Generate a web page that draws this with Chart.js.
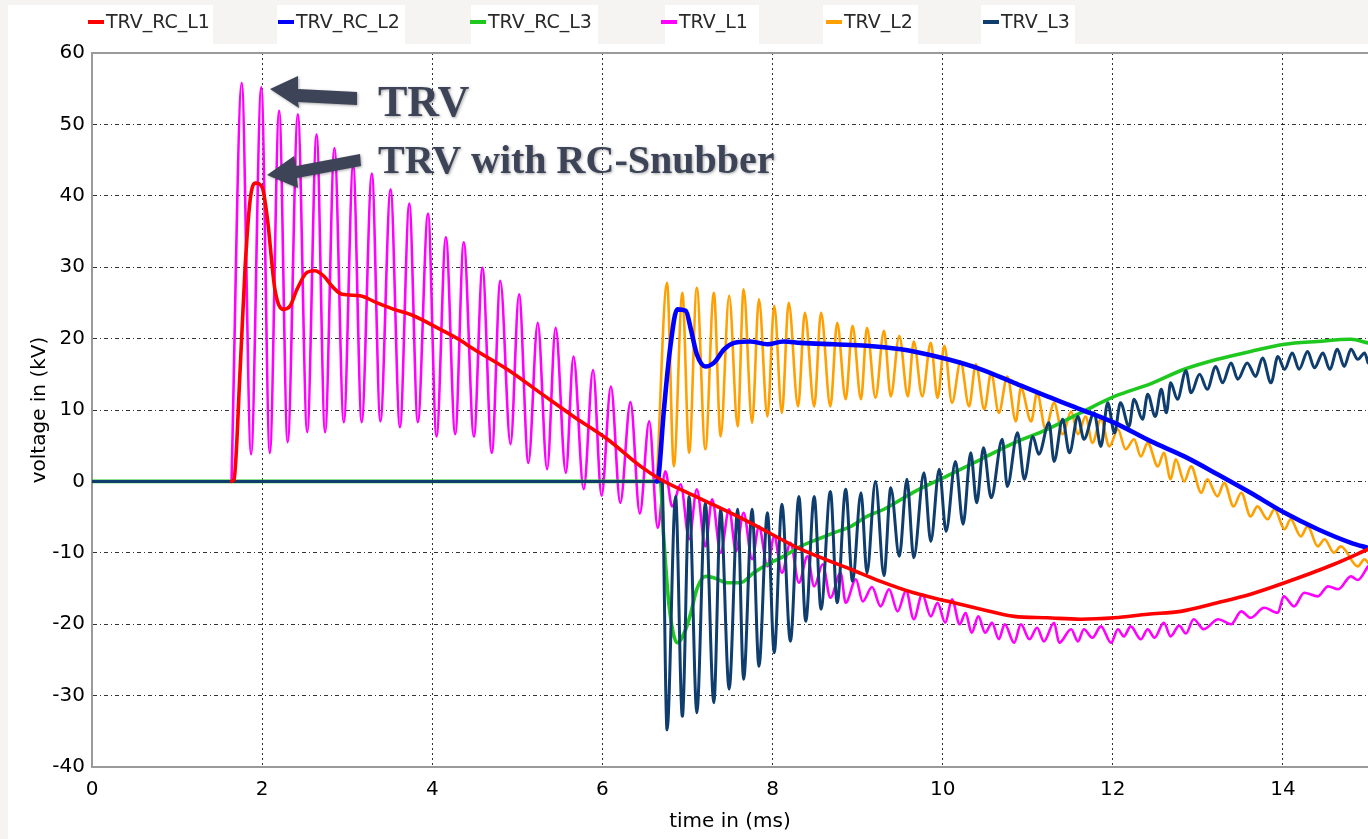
<!DOCTYPE html>
<html>
<head>
<meta charset="utf-8">
<title>TRV</title>
<script src="https://cdn.jsdelivr.net/npm/chart.js@4.4.1/dist/chart.umd.min.js"></script>
<style>
    html, body { margin: 0; padding: 0; background: #f5f4f2; }
    #trvChart { display: block; }
</style>
</head>
<body>
<canvas id="trvChart" width="1368" height="839"></canvas>
<script>
// time in ms / voltage in kV
const seriesNames = ["TRV_RC_L1", "TRV_RC_L2", "TRV_RC_L3", "TRV_L1", "TRV_L2", "TRV_L3"];
const xTickMs = [0, 2, 4, 6, 8, 10, 12, 14];
const yTickKv = [-40, -30, -20, -10, 0, 10, 20, 30, 40, 50, 60];

const rcL1Ms = [1.64, 1.67, 1.74, 1.80, 1.86, 1.92, 2.00, 2.06, 2.15, 2.25,
    2.33, 2.41, 2.53, 2.62, 2.72, 2.84, 2.94, 3.15, 3.35, 3.55,
    3.78, 4.06, 4.31, 4.49, 4.88, 5.27, 5.66, 6.06, 6.45, 6.68,
    7.15, 7.74, 8.33, 8.92, 9.27, 9.66, 10.06, 10.45, 10.84, 11.23,
    11.62, 12.02, 12.41, 12.80, 13.23, 13.62, 14.02, 14.60, 15.0];
const rcL1Kv = [0, 0.3, 15.3, 30, 39.5, 41.8, 41.2, 37, 26.9, 24.1,
    24.6, 26.9, 29.3, 29.5, 28.8, 27.1, 26.2, 26.0, 25.0, 24.1,
    23.2, 21.5, 19.9, 18.5, 15.7, 12.4, 9.1, 5.9, 2.1, 0.3,
    -2.4, -5.8, -9.5, -12.3, -14.0, -15.6, -16.8, -17.9, -18.9, -19.1,
    -19.3, -19.1, -18.6, -18.2, -17.0, -15.8, -14.2, -11.6, -9.5];

const rcL2Ms = [6.64, 6.66, 6.72, 6.80, 6.88, 6.98, 7.04, 7.11, 7.21, 7.31,
    7.43, 7.55, 7.74, 7.94, 8.13, 8.33, 8.72, 9.11, 9.51, 9.66,
    10.06, 10.45, 10.84, 11.23, 11.62, 12.02, 12.45, 12.84, 13.23, 13.62,
    14.02, 14.41, 14.80, 15.0];
const rcL2Kv = [0, 0.7, 9.6, 19.0, 24.1, 23.9, 21.3, 17.8, 16.1, 16.6,
    18.5, 19.4, 19.6, 19.2, 19.6, 19.4, 19.2, 19.0, 18.5, 18.2,
    17.1, 15.7, 13.8, 11.9, 10.1, 8.2, 5.6, 3.5, 1.0, -1.6,
    -4.4, -6.7, -8.6, -9.3];

const rcL3Ms = [0, 6.68, 6.72, 6.78, 6.88, 6.98, 7.04, 7.11, 7.21, 7.31,
    7.47, 7.62, 7.78, 7.94, 8.13, 8.33, 8.53, 8.72, 8.92, 9.11,
    9.31, 9.66, 10.06, 10.45, 10.84, 11.23, 11.62, 12.02, 12.45, 12.84,
    13.23, 13.62, 14.02, 14.41, 14.80, 15.0];
const rcL3Kv = [0, 0, -7.7, -17.0, -22.6, -20.7, -18.4, -15.1, -13.3, -13.5,
    -14.2, -14.2, -12.8, -11.6, -10.5, -9.1, -8.1, -7.2, -6.3, -4.9,
    -3.9, -1.5, 0.8, 3.1, 5.4, 7.3, 9.6, 11.9, 13.7, 15.7,
    17.1, 18.2, 19.2, 19.6, 19.9, 19.4];

// peaks and troughs of the un-damped traces
const l1Ms = [1.64, 1.76, 1.87, 1.99, 2.09, 2.20, 2.30, 2.42, 2.53, 2.64,
    2.74, 2.85, 2.96, 3.07, 3.17, 3.29, 3.39, 3.51, 3.62, 3.73,
    3.83, 3.95, 4.05, 4.16, 4.27, 4.37, 4.49, 4.59, 4.70, 4.80,
    4.92, 5.02, 5.13, 5.24, 5.35, 5.45, 5.57, 5.66, 5.78, 5.89,
    5.99, 6.10, 6.21, 6.33, 6.44, 6.55, 6.65, 6.74, 6.82, 6.92,
    7.02, 7.11, 7.21, 7.29, 7.39, 7.49, 7.57, 7.66, 7.76, 7.84,
    7.94, 8.02, 8.11, 8.21, 8.31, 8.41, 8.49, 8.59, 8.68, 8.80,
    8.86, 8.98, 9.06, 9.17, 9.27, 9.37, 9.47, 9.57, 9.66, 9.76,
    9.86, 9.94, 10.03, 10.11, 10.20, 10.27, 10.34, 10.42, 10.50, 10.58,
    10.66, 10.73, 10.84, 10.92, 11.02, 11.11, 11.19, 11.31, 11.37, 11.51,
    11.59, 11.66, 11.76, 11.86, 11.98, 12.06, 12.13, 12.21, 12.33, 12.41,
    12.49, 12.60, 12.68, 12.78, 12.86, 12.95, 13.07, 13.24, 13.39, 13.51,
    13.62, 13.78, 13.94, 14.01, 14.13, 14.25, 14.41, 14.53, 14.65, 14.80,
    14.88, 15.0];
const l1Kv = [0, 55.8, 3.8, 55.2, 4.0, 51.9, 5.5, 51.4, 6.9, 48.6,
    6.9, 46.7, 8.3, 44.3, 8.3, 43.1, 8.4, 40.9, 7.6, 38.9,
    8.3, 37.5, 6.3, 34.2, 6.6, 33.5, 6.3, 29.9, 4.0, 28.1,
    5.2, 26.2, 2.6, 22.2, 1.7, 21.5, 1.2, 17.5, -1.1, 15.6,
    -2.0, 13.3, -3.0, 11.1, -4.5, 8.4, -6.5, 1.4, -3.5, -0.4,
    -8.1, -1.1, -9.1, -2.5, -10.0, -3.9, -9.8, -4.4, -10.9, -6.3,
    -11.9, -7.7, -12.8, -8.6, -14.2, -10.5, -14.7, -11.6, -16.3, -12.8,
    -17.0, -13.7, -16.8, -14.8, -17.5, -15.1, -18.2, -15.3, -19.3, -15.8,
    -18.9, -17.0, -19.8, -16.5, -20.0, -18.4, -21.2, -18.9, -21.2, -19.8,
    -22.1, -20.0, -22.6, -20.0, -22.1, -20.5, -22.4, -19.8, -22.6, -20.7,
    -22.4, -20.7, -21.9, -20.3, -22.6, -20.7, -21.7, -20.3, -22.1, -20.7,
    -21.9, -19.8, -21.7, -20.2, -21.3, -19.3, -20.7, -19.3, -20.0, -18.2,
    -19.1, -17.7, -18.4, -16.1, -17.5, -15.6, -16.1, -14.7, -15.1, -13.3,
    -13.8, -11.9];

const l2Ms = [6.64, 6.76, 6.84, 6.94, 7.02, 7.11, 7.21, 7.31, 7.39, 7.49,
    7.59, 7.66, 7.76, 7.84, 7.94, 8.02, 8.11, 8.19, 8.30, 8.38,
    8.49, 8.57, 8.68, 8.76, 8.86, 8.94, 9.04, 9.11, 9.21, 9.31,
    9.39, 9.49, 9.59, 9.66, 9.76, 9.86, 9.94, 10.02, 10.11, 10.21,
    10.31, 10.39, 10.49, 10.57, 10.66, 10.76, 10.86, 10.92, 11.04, 11.11,
    11.21, 11.31, 11.41, 11.51, 11.59, 11.68, 11.76, 11.86, 11.96, 12.06,
    12.15, 12.25, 12.33, 12.41, 12.53, 12.60, 12.68, 12.74, 12.84, 12.92,
    13.04, 13.11, 13.23, 13.31, 13.42, 13.51, 13.62, 13.70, 13.82, 13.90,
    14.02, 14.09, 14.21, 14.29, 14.41, 14.49, 14.60, 14.68, 14.88, 14.96,
    15.0];
const l2Kv = [0, 27.8, 2.1, 26.4, 4.0, 27.1, 4.5, 26.4, 6.3, 26.0,
    7.7, 26.9, 8.2, 25.5, 9.1, 24.6, 9.6, 25.0, 10.5, 23.6,
    10.5, 23.6, 10.5, 22.2, 11.5, 21.8, 11.5, 21.5, 11.7, 21.1,
    11.9, 20.4, 11.9, 19.6, 11.9, 19.4, 11.7, 19.0, 11.0, 16.8,
    10.5, 16.4, 10.1, 15.2, 9.6, 14.7, 8.4, 13.1, 8.4, 12.4,
    7.3, 11.0, 6.6, 9.8, 6.6, 9.1, 5.4, 8.7, 4.9, 7.3,
    4.5, 5.9, 3.5, 5.4, 2.1, 4.0, 0.3, 3.1, 0.0, 2.1,
    -1.6, 0.3, -2.1, -0.2, -3.5, -1.6, -4.9, -3.5, -5.3, -3.9,
    -6.7, -5.3, -7.7, -6.3, -9.1, -8.1, -10.0, -9.1, -11.9, -10.9,
    -11.4];

const l3Ms = [0, 6.70, 6.76, 6.86, 6.94, 7.02, 7.11, 7.21, 7.31, 7.39,
    7.49, 7.59, 7.66, 7.76, 7.84, 7.94, 8.02, 8.11, 8.21, 8.31,
    8.39, 8.49, 8.57, 8.68, 8.76, 8.86, 8.94, 9.04, 9.11, 9.21,
    9.31, 9.39, 9.49, 9.58, 9.66, 9.78, 9.86, 9.96, 10.04, 10.15,
    10.24, 10.33, 10.40, 10.48, 10.57, 10.70, 10.76, 10.88, 10.96, 11.06,
    11.13, 11.25, 11.31, 11.41, 11.49, 11.59, 11.66, 11.78, 11.86, 11.94,
    12.02, 12.09, 12.19, 12.25, 12.35, 12.41, 12.50, 12.57, 12.63, 12.68,
    12.76, 12.86, 12.92, 13.02, 13.11, 13.21, 13.29, 13.39, 13.47, 13.58,
    13.68, 13.76, 13.86, 13.94, 14.02, 14.11, 14.19, 14.29, 14.37, 14.47,
    14.55, 14.64, 14.72, 14.80, 14.88, 14.96, 15.0];
const l3Kv = [0, 0, -34.8, -2.1, -32.9, -2.1, -32.4, -3.0, -31.0, -3.9,
    -29.1, -3.9, -27.7, -3.9, -25.9, -4.4, -24.0, -3.2, -22.4, -2.1,
    -19.6, -2.1, -17.9, -1.4, -17.0, -1.1, -14.0, -1.6, -12.8, 0.0,
    -13.2, -0.9, -10.5, 0.3, -10.7, 1.2, -8.4, 1.7, -7.0, 2.8,
    -6.0, 4.0, -3.0, 4.7, -2.3, 5.9, -0.7, 6.8, 0.3, 6.3,
    3.8, 8.2, 2.8, 8.7, 4.0, 9.1, 5.9, 9.6, 4.9, 11.0,
    6.8, 11.0, 7.7, 11.5, 8.7, 12.2, 9.1, 12.9, 9.6, 13.8,
    11.5, 15.5, 12.4, 15.0, 12.9, 16.1, 13.8, 16.6, 14.3, 16.6,
    14.7, 17.3, 13.8, 17.5, 15.7, 18.0, 15.7, 18.2, 15.9, 18.0,
    15.7, 18.5, 16.1, 18.5, 17.1, 18.0, 16.6];

// look of the page (not data)
const seriesColors = ["#ff0000", "#0000ff", "#1ec81e", "#ff00ff", "#ffa000", "#0f3d6e"];
const seriesWidths = [3.6, 4.6, 3.6, 2.6, 2.6, 3.0];
const seriesOrder = [0, 1, 3, 5, 4, 2]; // lower = drawn on top
const legendX = [88, 278, 470, 661, 826, 983];
const legendGaps = [[213, 277], [405, 471], [598, 665], [759, 823], [918, 981], [1075, 1368]];
const noteColor = "#3d4457";

let trvChart;

/**
 * build {x, y} points from the time / voltage arrays
 */
function toPoints(ms, kv) {
    return ms.map((t, i) => ({ x: t, y: kv[i] }));
}

const decorPlugin = {
    id: "decor",
    beforeDraw(chart) {
        const ctx = chart.ctx;
        ctx.save();
        ctx.fillStyle = "#f5f4f2";
        ctx.fillRect(0, 0, chart.width, chart.height);
        ctx.fillStyle = "#ffffff";
        ctx.fillRect(8, 5, chart.width - 8, chart.height - 5);
        ctx.fillStyle = "#f5f4f2";
        legendGaps.forEach(g => ctx.fillRect(g[0], 5, g[1] - g[0], 39));
        ctx.restore();
    },
    afterDraw(chart) {
        const ctx = chart.ctx;
        const area = chart.chartArea;
        ctx.save();

        // frame line on top of the plot
        ctx.strokeStyle = "#9a9a9a";
        ctx.lineWidth = 2;
        ctx.beginPath();
        ctx.moveTo(area.left, area.top);
        ctx.lineTo(area.right, area.top);
        ctx.stroke();

        // legend row
        ctx.font = '19px "DejaVu Sans"';
        ctx.textBaseline = "middle";
        chart.data.datasets.forEach((ds, i) => {
            ctx.fillStyle = ds.borderColor;
            ctx.fillRect(legendX[i], 20, 16, 4);
            ctx.fillStyle = "#2a2a2a";
            ctx.fillText(ds.label, legendX[i] + 18, 23);
        });

        // annotation arrows + text
        ctx.fillStyle = noteColor;
        ctx.shadowColor = "rgba(0,0,0,0.35)";
        ctx.shadowBlur = 3;
        ctx.shadowOffsetX = 1;
        ctx.shadowOffsetY = 1;
        drawPoly(ctx, [[270, 89], [298, 76], [298, 89], [357, 92], [357, 105], [298, 102], [299, 108]]);
        drawPoly(ctx, [[267, 175], [294, 156], [296, 166], [360, 154], [361, 166], [297, 178], [298, 188]]);
        ctx.textBaseline = "alphabetic";
        ctx.font = 'bold 44px "Liberation Serif"';
        ctx.fillText("TRV", 378, 116);
        ctx.font = 'bold 40px "Liberation Serif"';
        ctx.fillText("TRV with RC-Snubber", 378, 173);
        ctx.restore();
    }
};

function drawPoly(ctx, pts) {
    ctx.beginPath();
    ctx.moveTo(pts[0][0], pts[0][1]);
    for (let i = 1; i < pts.length; i++) ctx.lineTo(pts[i][0], pts[i][1]);
    ctx.closePath();
    ctx.fill();
}

/**
 * Chart.js line chart with linear time axis
 */
function createChart() {
    const series = [
        toPoints(rcL1Ms, rcL1Kv),
        toPoints(rcL2Ms, rcL2Kv),
        toPoints(rcL3Ms, rcL3Kv),
        toPoints(l1Ms, l1Kv),
        toPoints(l2Ms, l2Kv),
        toPoints(l3Ms, l3Kv)
    ];

    const datasets = series.map((pts, i) => ({
        label: seriesNames[i],
        data: pts,
        borderColor: seriesColors[i],
        backgroundColor: seriesColors[i],
        borderWidth: seriesWidths[i],
        order: seriesOrder[i],
        pointRadius: 0,
        cubicInterpolationMode: "monotone",
        borderJoinStyle: "round",
        borderCapStyle: "round",
        fill: false
    }));

    const tickFont = { family: "DejaVu Sans", size: 20 };

    let ctx = document.getElementById("trvChart").getContext("2d");
    trvChart = new Chart(ctx, {
        type: "line",
        data: { datasets: datasets },
        options: {
            responsive: false,
            animation: false,
            devicePixelRatio: 1,
            layout: { padding: { top: 53, left: 0, right: 0, bottom: 0 } },
            plugins: {
                legend: { display: false },
                tooltip: { enabled: false }
            },
            scales: {
                x: {
                    type: "linear",
                    min: 0,
                    max: 15,
                    afterBuildTicks: s => { s.ticks = xTickMs.map(v => ({ value: v })); },
                    afterFit: s => { s.height = 72; },
                    ticks: { font: tickFont, color: "#000", padding: 11, maxRotation: 0 },
                    grid: { color: "rgba(0,0,0,0.8)", lineWidth: 1, drawTicks: false },
                    border: { display: true, color: "#9a9a9a", width: 2, dash: [2, 3] },
                    title: {
                        display: true,
                        text: "time in (ms)",
                        font: tickFont,
                        color: "#000",
                        padding: { top: 0, bottom: 5 }
                    }
                },
                y: {
                    type: "linear",
                    min: -40,
                    max: 60,
                    afterBuildTicks: s => { s.ticks = yTickKv.map(v => ({ value: v })); },
                    afterFit: s => { s.width = 92; },
                    ticks: { font: tickFont, color: "#000", padding: 7 },
                    grid: { color: "rgba(0,0,0,0.8)", lineWidth: 1, drawTicks: false },
                    border: { display: true, color: "#9a9a9a", width: 2, dash: [4, 3, 1, 3] },
                    title: {
                        display: true,
                        text: "voltage in (kV)",
                        font: tickFont,
                        color: "#000",
                        padding: { top: 28, bottom: 0 }
                    }
                }
            }
        },
        plugins: [decorPlugin]
    });
}

createChart();
</script>
</body>
</html>
